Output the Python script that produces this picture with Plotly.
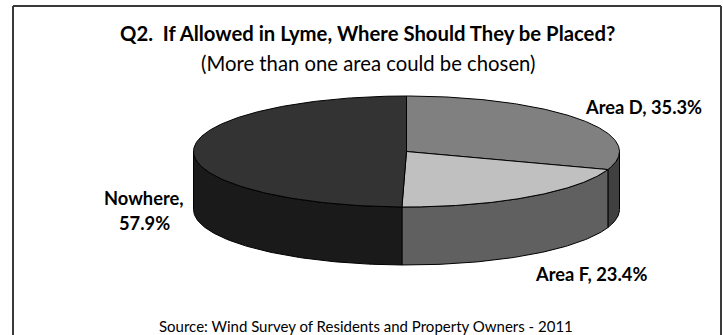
import numpy as np
import plotly.graph_objects as go

categories = ["Area D", "Area F", "Nowhere"]
values = [35.3, 23.4, 57.9]
top_colors = ["#808080", "#c0c0c0", "#333333"]
side_colors = ["#404040", "#606060", "#1a1a1a"]
title = "Q2.  If Allowed in Lyme, Where Should They be Placed?"
subtitle = "(More than one area could be chosen)"
source = "Source: Wind Survey of Residents and Property Owners - 2011"

W, H = 723, 335
CX, CY, A, B, DEPTH = 406.5, 151.5, 213, 55.5, 58

fractions = np.array(values) / sum(values)
edges = np.concatenate([[0], np.cumsum(fractions)]) * 2 * np.pi


def rim(t):
    return CX + A * np.sin(t), CY - B * np.cos(t)


fig = go.Figure()


def poly(xs, ys, color, name):
    fig.add_trace(go.Scatter(x=list(xs), y=list(ys), mode="lines", fill="toself",
                             fillcolor=color, line=dict(color="#000000", width=1),
                             name=name, hoverinfo="name", showlegend=False))


for i, cat in enumerate(categories):
    lo, hi = max(edges[i], np.pi / 2), min(edges[i + 1], 3 * np.pi / 2)
    if hi > lo:
        t = np.linspace(lo, hi, 90)
        x, y = rim(t)
        poly(np.concatenate([x, x[::-1], x[:1]]),
             np.concatenate([y, y[::-1] + DEPTH, y[:1]]), side_colors[i], cat + " side")

for i, cat in enumerate(categories):
    t = np.linspace(edges[i], edges[i + 1], 180)
    x, y = rim(t)
    poly(np.concatenate([[CX], x, [CX]]), np.concatenate([[CY], y, [CY]]), top_colors[i], cat)

FONT = "Lato, Carlito, Calibri, sans-serif"
def note(x, y, text, size, bold=False, anchor="center"):
    fig.add_annotation(x=x, y=y, xref="x", yref="y", text=f"<b>{text}</b>" if bold else text,
                       showarrow=False, xanchor=anchor, yanchor="middle",
                       font=dict(family=FONT, size=size, color="#000000"))


note(367.5, 33, title, 20.3, True)
note(368.5, 63, subtitle, 20.3)
note(365.5, 326, source, 15)
note(583, 107, f"{categories[0]}, {values[0]}%", 18.3, True, "left")
note(533, 274, f"{categories[1]}, {values[1]}%", 18.3, True, "left")
note(144, 198, f"{categories[2]},", 18.3, True)
note(144, 223, f"{values[2]}%", 18.3, True)

for x0, y0, x1, y1 in [(13, 6, 721, 6), (13, 6, 13, H), (721, 6, 721, H)]:
    fig.add_shape(type="line", x0=x0, y0=y0, x1=x1, y1=y1, xref="x", yref="y",
                  line=dict(color="#3a3a3a", width=2))

fig.update_layout(width=W, height=H, margin=dict(l=0, r=0, t=0, b=0),
                  paper_bgcolor="white", plot_bgcolor="white", showlegend=False,
                  xaxis=dict(range=[0, W], visible=False, fixedrange=True),
                  yaxis=dict(range=[H, 0], visible=False, fixedrange=True))
fig.write_html("out.html", config=dict(displayModeBar=False),
               post_script="document.body.style.margin='0';document.body.style.overflow='hidden';")
